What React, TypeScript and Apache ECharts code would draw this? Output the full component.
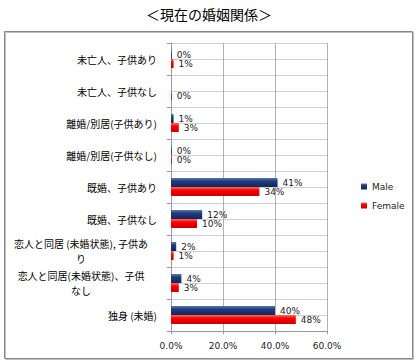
import React, { useEffect, useRef } from "react";
import * as echarts from "echarts";

const title = "＜現在の婚姻関係＞";
const categories = [
  "未亡人、子供あり",
  "未亡人、子供なし",
  "離婚/別居(子供あり)",
  "離婚/別居(子供なし)",
  "既婚、子供あり",
  "既婚、子供なし",
  "恋人と同居 (未婚状態), 子供あ\nり",
  "恋人と同居(未婚状態)、子供\nなし",
  "独身 (未婚)",
];
const maleValues: (number | null)[] = [0.3, null, 1, 0.3, 41, 12, 2, 4, 40];
const femaleValues: (number | null)[] = [1, 0.3, 3, 0.3, 34, 10, 1, 3, 48];
const seriesNames = ["Male", "Female"];
const xTicks = [0, 20, 40, 60];

export default function App() {
  const ref = useRef<HTMLDivElement>(null);
  useEffect(() => {
    if (!ref.current) return;
    const chart = echarts.init(ref.current, undefined, { renderer: "svg" });
    const font = "DejaVu Sans";
    const cjk = "Noto Sans CJK JP";
    const labelCfg = {
      show: true,
      position: "right" as const,
      distance: 5,
      fontFamily: font,
      fontSize: 9,
      color: "#222",
      formatter: (p: any) => Math.round(p.value) + "%",
    };
    const subCats = categories.flatMap((c, i) => [c + "_a" + i, c + "_b" + i]);
    chart.setOption({
      animation: false,
      title: {
        text: title,
        left: "center",
        top: 2,
        textStyle: { fontFamily: cjk, fontSize: 14, fontWeight: "normal", color: "#000" },
      },
      legend: {
        orient: "vertical",
        left: 356,
        top: 177,
        itemWidth: 6,
        itemHeight: 6,
        itemGap: 10,
        icon: "rect",
        textStyle: { fontFamily: font, fontSize: 9, color: "#222" },
        data: seriesNames,
      },
      graphic: [
        {
          type: "rect",
          shape: { x: 4.5, y: 31.5, width: 408, height: 327 },
          style: { fill: "none", stroke: "#888", lineWidth: 1, shadowColor: "rgba(0,0,0,0.25)", shadowOffsetX: 1, shadowOffsetY: 1, shadowBlur: 1 },
          z: -1,
        },
      ],
      grid: { left: 171, right: 91, top: 43, bottom: 33 },
      xAxis: {
        type: "value",
        min: 0,
        max: 60,
        interval: 20,
        axisLine: { show: true, lineStyle: { color: "#999" } },
        axisTick: { show: true, length: 3, lineStyle: { color: "#999" } },
        splitLine: { show: true, lineStyle: { color: "#b0b0b0" } },
        axisLabel: {
          fontFamily: font,
          fontSize: 9,
          color: "#222",
          margin: 10,
          formatter: (v: number) => (xTicks.includes(v) ? v.toFixed(1) + "%" : ""),
        },
      },
      yAxis: [
        {
          type: "category",
          inverse: true,
          data: categories,
          axisLine: { show: true, lineStyle: { color: "#999" } },
          axisTick: { show: true, length: 4, lineStyle: { color: "#999" } },
          splitLine: { show: false },
          axisLabel: {
            fontFamily: cjk,
            fontSize: 10,
            color: "#000",
            margin: 14,
            formatter: (v: string) => (v.includes("\n") ? "{w|" + v + "}" : v),
            rich: {
              w: { width: 152, align: "center", fontFamily: cjk, fontSize: 10, color: "#000", lineHeight: 15 },
            },
          },
        },
        {
          type: "category",
          inverse: true,
          position: "left",
          data: subCats,
          axisLine: { show: false },
          axisTick: { show: false },
          axisLabel: { show: false },
          splitLine: { show: true, lineStyle: { color: "#d0d0d0" } },
        },
      ],
      series: [
        {
          name: seriesNames[0],
          type: "bar",
          yAxisIndex: 0,
          data: maleValues,
          barWidth: 9,
          barGap: "0%",
          itemStyle: {
            color: new echarts.graphic.LinearGradient(0, 0, 0, 1, [
              { offset: 0, color: "#5a78b8" },
              { offset: 0.35, color: "#203c7c" },
              { offset: 1, color: "#12285a" },
            ]),
          },
          label: labelCfg,
        },
        {
          name: seriesNames[1],
          type: "bar",
          yAxisIndex: 0,
          data: femaleValues,
          barWidth: 9,
          barGap: "0%",
          itemStyle: {
            color: new echarts.graphic.LinearGradient(0, 0, 0, 1, [
              { offset: 0, color: "#ff6a6a" },
              { offset: 0.35, color: "#ff0000" },
              { offset: 1, color: "#c80000" },
            ]),
          },
          label: labelCfg,
        },
      ],
    });
    return () => chart.dispose();
  }, []);
  return (
    <div
      ref={ref}
      style={{ position: "fixed", left: 0, top: 0, width: 418, height: 364, background: "#fff" }}
    />
  );
}
